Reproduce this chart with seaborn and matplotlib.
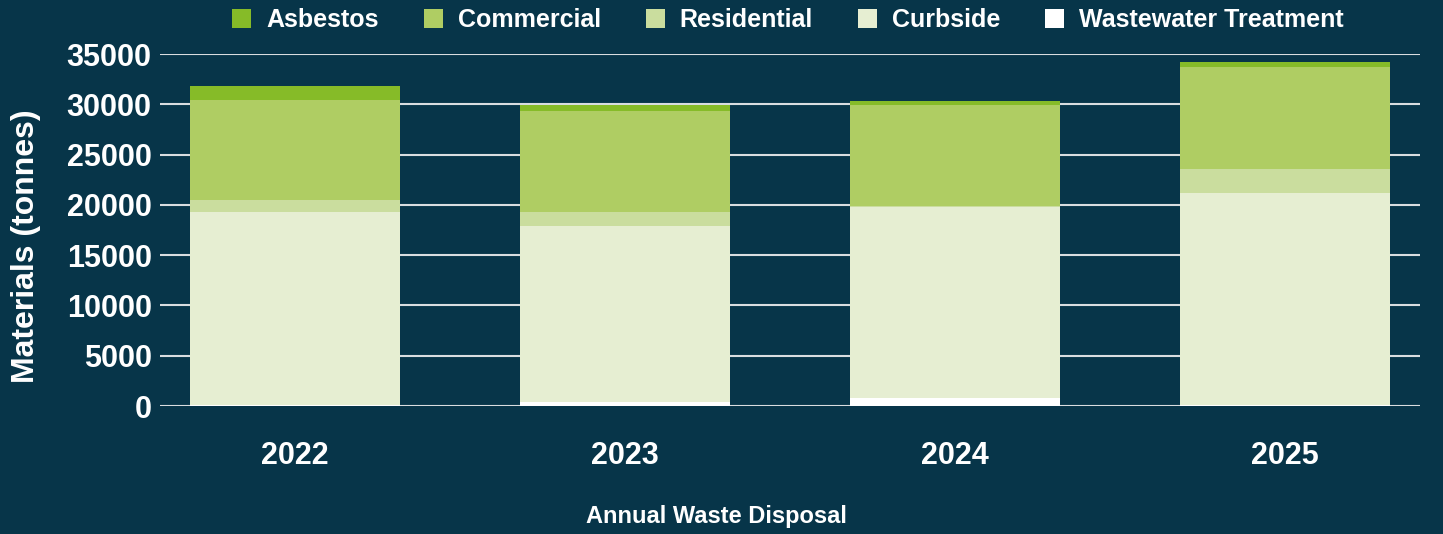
import matplotlib
matplotlib.use("Agg")
import matplotlib.pyplot as plt
import seaborn as sns
import pandas as pd
import numpy as np
from matplotlib.patches import Patch

years = ["2022", "2023", "2024", "2025"]
wastewater = [100, 350, 750, 100]
curbside = [19200, 17570, 19050, 21100]
residential = [1200, 1390, 100, 2330]
commercial = [9900, 10040, 10000, 10200]
asbestos = [1440, 570, 450, 500]

series_names = ["Wastewater Treatment", "Curbside", "Residential", "Commercial", "Asbestos"]
series_vals = [wastewater, curbside, residential, commercial, asbestos]
colors = {
    "Asbestos": "#86bb28",
    "Commercial": "#afcd63",
    "Residential": "#cadd9e",
    "Curbside": "#e6eed2",
    "Wastewater Treatment": "#ffffff",
}
BG = "#073549"

sns.set_theme(style="white")
plt.rcParams["font.family"] = ["Liberation Sans", "DejaVu Sans"]

fig = plt.figure(figsize=(14.43, 5.34), dpi=100, facecolor=BG)
ax = fig.add_axes([160/1443, 1-406/534, 1260/1443, 352/534])
ax.set_facecolor(BG)

cum = np.cumsum(np.array(series_vals), axis=0)
# draw from top of stack to bottom so lower layers overlay
for i in range(len(series_names) - 1, -1, -1):
    df = pd.DataFrame({"year": years, "value": cum[i]})
    sns.barplot(data=df, x="year", y="value", color=colors[series_names[i]],
                width=0.636, ax=ax, saturation=1, linewidth=0, zorder=3)

ax.set_xlim(-0.41, 3.41)
ax.set_ylim(0, 35000)
ax.set_yticks(range(0, 35001, 5000))
ax.grid(axis="y", color="#d9dde0", linewidth=1.5, zorder=0)
ax.set_axisbelow(True)
for s in ax.spines.values():
    s.set_visible(False)
ax.tick_params(axis="both", length=0, colors="white")
ax.tick_params(axis="y", pad=6)
ax.tick_params(axis="x", pad=25)
for lab in ax.get_yticklabels() + ax.get_xticklabels():
    lab.set_fontsize(22)
    lab.set_fontweight("bold")
    lab.set_color("white")

ax.set_ylabel("Materials (tonnes)", fontsize=23, fontweight="bold", color="white", va="center")
ax.yaxis.set_label_coords((26 - 160) / 1260, (406 - 246) / 352)
ax.set_xlabel("Annual Waste Disposal", fontsize=17, fontweight="bold", color="white", va="center")
ax.xaxis.set_label_coords((716 - 160) / 1260, (406 - 517) / 352)

legend_order = ["Asbestos", "Commercial", "Residential", "Curbside", "Wastewater Treatment"]
handles = [Patch(facecolor=colors[n], edgecolor="none") for n in legend_order]
leg = fig.legend(handles, legend_order, loc="center", bbox_to_anchor=(788/1443, 1-20/534),
                 ncol=5, frameon=False, handlelength=0.76, handleheight=0.76,
                 handletextpad=0.6, columnspacing=1.8,
                 prop={"size": 18, "weight": "bold"})
for t in leg.get_texts():
    t.set_color("white")

fig.savefig("out.png", dpi=100, facecolor=BG)
